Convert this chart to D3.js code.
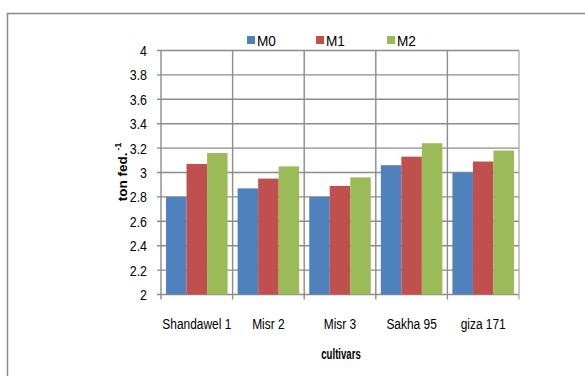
<!DOCTYPE html>
<html>
<head>
<meta charset="utf-8">
<script src="https://cdn.jsdelivr.net/npm/d3@7"></script>
<style>
  html, body { margin: 0; padding: 0; background: #fff; }
  svg { display: block; }
  text { font-family: "Liberation Sans", Arial, sans-serif; fill: #000; }
</style>
</head>
<body>
<svg id="chart" width="585" height="376"></svg>
<script>
// Grain yield by cultivar under three treatments
const cultivars = ["Shandawel 1", "Misr 2", "Misr 3", "Sakha 95", "giza 171"];
const seriesNames = ["M0", "M1", "M2"];
const M0 = [2.80, 2.87, 2.80, 3.06, 3.00];
const M1 = [3.07, 2.95, 2.89, 3.13, 3.09];
const M2 = [3.16, 3.05, 2.96, 3.24, 3.18];
const yTicks = [2, 2.2, 2.4, 2.6, 2.8, 3, 3.2, 3.4, 3.6, 3.8, 4];
const colors = ["#4F81BD", "#C0504D", "#9BBB59"];

const seriesValues = [M0, M1, M2];
const svg = d3.select("#chart");

// narrow text: horizontally squeezed Liberation Sans
function narrowText(parent, x, y, anchor, size, sx, str, weight) {
  const g = parent.append("g").attr("transform", `translate(${x},${y}) scale(${sx},1)`);
  return g.append("text")
    .attr("text-anchor", anchor)
    .attr("font-size", size)
    .attr("font-weight", weight || "normal")
    .text(str);
}

// Outer frame (continues past the right and bottom edges)
svg.append("rect")
  .attr("x", 7.5).attr("y", 13.5)
  .attr("width", 600).attr("height", 400)
  .attr("fill", "none").attr("stroke", "#8a8a8a").attr("stroke-width", 1.5);

const plot = { left: 161, right: 519, top: 50.5, bottom: 294.5 };

const x = d3.scaleBand().domain(cultivars).range([plot.left, plot.right]).paddingInner(0).paddingOuter(0);
const xInner = d3.scaleBand().domain(seriesNames).range([0, x.bandwidth()]).paddingInner(0).paddingOuter(0.245);
const y = d3.scaleLinear().domain([2, 4]).range([plot.bottom, plot.top]);

const grid = svg.append("g");
// horizontal gridlines
grid.selectAll("line.h").data(yTicks).join("line")
  .attr("class", "h")
  .attr("x1", plot.left - 4).attr("x2", plot.right)
  .attr("y1", d => y(d)).attr("y2", d => y(d))
  .attr("stroke", "#8c8c8c").attr("stroke-width", 1.4);
// vertical category separators
const bounds = [plot.left].concat(cultivars.map(c => x(c) + x.bandwidth()));
grid.selectAll("line.v").data(bounds).join("line")
  .attr("class", "v")
  .attr("x1", d => d).attr("x2", d => d)
  .attr("y1", plot.top).attr("y2", plot.bottom + 5)
  .attr("stroke", (d, i) => i === bounds.length - 1 ? "#b0b0b0" : "#8c8c8c")
  .attr("stroke-width", 1.4);

// bars
const bars = svg.append("g");
cultivars.forEach((c, ci) => {
  seriesNames.forEach((s, si) => {
    const v = seriesValues[si][ci];
    bars.append("rect")
      .attr("x", x(c) + xInner(s))
      .attr("y", y(v))
      .attr("width", xInner.bandwidth())
      .attr("height", y(2) - y(v))
      .attr("fill", colors[si]);
  });
});

// y tick labels
const yLab = svg.append("g");
yTicks.forEach(t => {
  narrowText(yLab, 147, y(t) + 5.5, "end", 15.5, 0.8, d3.format("~g")(t));
});

// x tick labels
const xLab = svg.append("g");
cultivars.forEach(c => {
  narrowText(xLab, x(c) + x.bandwidth() / 2, 329, "middle", 15.5, 0.77, c);
});

// axis titles
narrowText(svg, 341, 359, "middle", 15, 0.64, "cultivars", "bold");

const yt = svg.append("text")
  .attr("transform", "translate(127,172) rotate(-90)")
  .attr("text-anchor", "middle")
  .attr("font-family", "'DejaVu Sans', sans-serif")
  .attr("font-size", 13.5).attr("font-weight", "bold");
yt.append("tspan").text("ton fed.");
yt.append("tspan").attr("dx", 2).attr("dy", -6).attr("font-size", 8.5).text("-1");

// legend
const legX = [247, 316, 387];
const leg = svg.append("g");
seriesNames.forEach((s, i) => {
  leg.append("rect")
    .attr("x", legX[i]).attr("y", 36)
    .attr("width", 8).attr("height", 8)
    .attr("fill", colors[i]);
  narrowText(leg, legX[i] + 10, 45.5, "start", 15.5, 0.88, s);
});
</script>
</body>
</html>
